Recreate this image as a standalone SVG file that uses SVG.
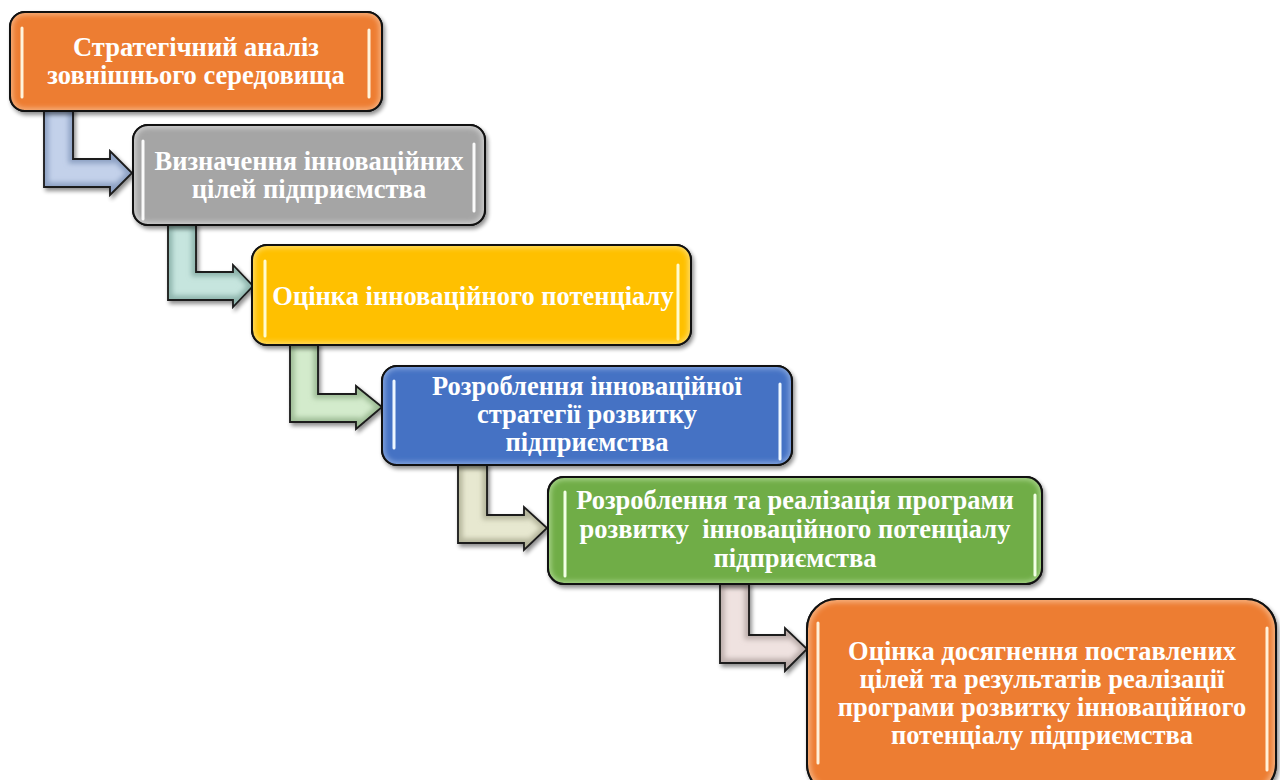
<svg xmlns="http://www.w3.org/2000/svg" width="1280" height="780" viewBox="0 0 1280 780">
  <defs>
    <style>
      .box { stroke: #111; stroke-width: 2; }
      .lbl { font-family: "Liberation Serif", "Times New Roman", serif; font-weight: bold; font-size: 26.5px; fill: #fff; text-anchor: middle; }
      .arr-edge { fill: none; stroke: #1a1a1a; stroke-width: 1.8; stroke-linejoin: miter; }
      .hl { stroke-width: 3; stroke-linecap: round; fill: none; }
      .glow { stroke-width: 7; stroke-linecap: round; fill: none; opacity: 0.55; }
    </style>
    <filter id="shadow" x="-10%" y="-10%" width="125%" height="130%">
      <feGaussianBlur in="SourceAlpha" stdDeviation="2.2"/>
      <feOffset dx="1.5" dy="2.5" result="b"/>
      <feComponentTransfer><feFuncA type="linear" slope="0.45"/></feComponentTransfer>
      <feMerge><feMergeNode/><feMergeNode in="SourceGraphic"/></feMerge>
    </filter>
    <filter id="soft" x="-20%" y="-20%" width="140%" height="140%">
      <feGaussianBlur stdDeviation="2.5"/>
    </filter>
    <filter id="glowblur" x="-200%" y="-20%" width="500%" height="140%">
      <feGaussianBlur stdDeviation="2"/>
    </filter>

    <!-- connector outlines -->
    <path id="a1" d="M44,108 H73 V159 H110 V151 L132,173 L110,195 V187 H44 Z"/>
    <path id="a2" d="M168,224 H196 V272 H233 V265 L253,286 L233,307 V300 H168 Z"/>
    <path id="a3" d="M290,343 H318 V394 H356 V386 L382,407 L356,429 V422 H290 Z"/>
    <path id="a4" d="M458,464 H487 V515 H524 V507 L547,528 L524,550 V543 H458 Z"/>
    <path id="a5" d="M720,583 H749 V635 H785 V628 L807,649 L785,671 V663 H720 Z"/>
    <clipPath id="c1"><use href="#a1"/></clipPath>
    <clipPath id="c2"><use href="#a2"/></clipPath>
    <clipPath id="c3"><use href="#a3"/></clipPath>
    <clipPath id="c4"><use href="#a4"/></clipPath>
    <clipPath id="c5"><use href="#a5"/></clipPath>

    <!-- box outlines -->
    <rect id="r1" x="10" y="12" width="372" height="99" rx="15"/>
    <rect id="r2" x="133" y="125" width="352" height="100" rx="15"/>
    <rect id="r3" x="252" y="245" width="439" height="100" rx="15"/>
    <rect id="r4" x="382" y="366" width="410" height="99" rx="15"/>
    <rect id="r5" x="548" y="477" width="494" height="107" rx="16"/>
    <rect id="r6" x="807" y="599" width="469" height="195" rx="30"/>
    <clipPath id="k1"><use href="#r1"/></clipPath>
    <clipPath id="k2"><use href="#r2"/></clipPath>
    <clipPath id="k3"><use href="#r3"/></clipPath>
    <clipPath id="k4"><use href="#r4"/></clipPath>
    <clipPath id="k5"><use href="#r5"/></clipPath>
    <clipPath id="k6"><use href="#r6"/></clipPath>
  </defs>

  <rect width="1280" height="780" fill="#fff"/>

  <!-- bent arrows between steps -->
  <g id="connectors">
    <g filter="url(#shadow)">
      <use href="#a1" fill="#c3d1ea"/>
      <g clip-path="url(#c1)"><use href="#a1" fill="none" stroke="#8ea2c4" stroke-width="9" filter="url(#soft)"/></g>
      <use href="#a1" class="arr-edge"/>
    </g>
    <g filter="url(#shadow)">
      <use href="#a2" fill="#c6e5de"/>
      <g clip-path="url(#c2)"><use href="#a2" fill="none" stroke="#8fb5ad" stroke-width="9" filter="url(#soft)"/></g>
      <use href="#a2" class="arr-edge"/>
    </g>
    <g filter="url(#shadow)">
      <use href="#a3" fill="#d3ebcc"/>
      <g clip-path="url(#c3)"><use href="#a3" fill="none" stroke="#9fbd96" stroke-width="9" filter="url(#soft)"/></g>
      <use href="#a3" class="arr-edge"/>
    </g>
    <g filter="url(#shadow)">
      <use href="#a4" fill="#e7e8d0"/>
      <g clip-path="url(#c4)"><use href="#a4" fill="none" stroke="#b5b69c" stroke-width="9" filter="url(#soft)"/></g>
      <use href="#a4" class="arr-edge"/>
    </g>
    <g filter="url(#shadow)">
      <use href="#a5" fill="#efe2e0"/>
      <g clip-path="url(#c5)"><use href="#a5" fill="none" stroke="#bcaeab" stroke-width="9" filter="url(#soft)"/></g>
      <use href="#a5" class="arr-edge"/>
    </g>
  </g>

  <!-- step 1 -->
  <g id="step1">
    <use href="#r1" fill="#ed7d31" class="box" filter="url(#shadow)"/>
    <g clip-path="url(#k1)"><use href="#r1" fill="none" stroke="#f6b07e" stroke-width="6" filter="url(#soft)"/></g>
    <use href="#r1" fill="none" class="box"/>
    <line x1="22" y1="28" x2="22" y2="97" class="glow" stroke="#ffd9a0" filter="url(#glowblur)"/>
    <line x1="22" y1="28" x2="22" y2="97" class="hl" stroke="#fff4dc"/>
    <line x1="369" y1="30" x2="369" y2="97" class="glow" stroke="#ffd9a0" filter="url(#glowblur)"/>
    <line x1="369" y1="30" x2="369" y2="97" class="hl" stroke="#fff4dc"/>
    <text class="lbl" x="196" y="56">Стратегічний аналіз</text>
    <text class="lbl" x="196" y="84">зовнішнього середовища</text>
  </g>

  <!-- step 2 -->
  <g id="step2">
    <use href="#r2" fill="#a5a5a5" class="box" filter="url(#shadow)"/>
    <g clip-path="url(#k2)"><use href="#r2" fill="none" stroke="#d0d0d0" stroke-width="6" filter="url(#soft)"/></g>
    <use href="#r2" fill="none" class="box"/>
    <line x1="143" y1="141" x2="143" y2="219" class="glow" stroke="#ffffff" filter="url(#glowblur)"/>
    <line x1="143" y1="141" x2="143" y2="219" class="hl" stroke="#fafafa"/>
    <line x1="474" y1="144" x2="474" y2="211" class="glow" stroke="#ffffff" filter="url(#glowblur)"/>
    <line x1="474" y1="144" x2="474" y2="211" class="hl" stroke="#fafafa"/>
    <text class="lbl" x="309" y="170">Визначення інноваційних</text>
    <text class="lbl" x="309" y="198">цілей підприємства</text>
  </g>

  <!-- step 3 -->
  <g id="step3">
    <use href="#r3" fill="#ffc000" class="box" filter="url(#shadow)"/>
    <g clip-path="url(#k3)"><use href="#r3" fill="none" stroke="#ffdc66" stroke-width="6" filter="url(#soft)"/></g>
    <use href="#r3" fill="none" class="box"/>
    <line x1="265" y1="261" x2="265" y2="336" class="glow" stroke="#ffff60" filter="url(#glowblur)"/>
    <line x1="265" y1="261" x2="265" y2="336" class="hl" stroke="#fffbd0"/>
    <line x1="678" y1="265" x2="678" y2="339" class="glow" stroke="#ffff60" filter="url(#glowblur)"/>
    <line x1="678" y1="265" x2="678" y2="339" class="hl" stroke="#fffbd0"/>
    <text class="lbl" x="473" y="305">Оцінка інноваційного потенціалу</text>
  </g>

  <!-- step 4 -->
  <g id="step4">
    <use href="#r4" fill="#4472c4" class="box" filter="url(#shadow)"/>
    <g clip-path="url(#k4)"><use href="#r4" fill="none" stroke="#86a6dd" stroke-width="6" filter="url(#soft)"/></g>
    <use href="#r4" fill="none" class="box"/>
    <line x1="394" y1="381" x2="394" y2="448" class="glow" stroke="#bfe0ff" filter="url(#glowblur)"/>
    <line x1="394" y1="381" x2="394" y2="448" class="hl" stroke="#eef7ff"/>
    <line x1="780" y1="384" x2="780" y2="459" class="glow" stroke="#bfe0ff" filter="url(#glowblur)"/>
    <line x1="780" y1="384" x2="780" y2="459" class="hl" stroke="#eef7ff"/>
    <text class="lbl" x="587" y="395">Розроблення інноваційної</text>
    <text class="lbl" x="587" y="423">стратегії розвитку</text>
    <text class="lbl" x="587" y="451">підприємства</text>
  </g>

  <!-- step 5 -->
  <g id="step5">
    <use href="#r5" fill="#70ad47" class="box" filter="url(#shadow)"/>
    <g clip-path="url(#k5)"><use href="#r5" fill="none" stroke="#a8d48a" stroke-width="6" filter="url(#soft)"/></g>
    <use href="#r5" fill="none" class="box"/>
    <line x1="565" y1="492" x2="565" y2="576" class="glow" stroke="#d8ffb8" filter="url(#glowblur)"/>
    <line x1="565" y1="492" x2="565" y2="576" class="hl" stroke="#f2ffe6"/>
    <line x1="1035" y1="495" x2="1035" y2="575" class="glow" stroke="#d8ffb8" filter="url(#glowblur)"/>
    <line x1="1035" y1="495" x2="1035" y2="575" class="hl" stroke="#f2ffe6"/>
    <text class="lbl" x="795" y="509">Розроблення та реалізація програми</text>
    <text class="lbl" x="795" y="538" xml:space="preserve">розвитку  інноваційного потенціалу</text>
    <text class="lbl" x="795" y="567">підприємства</text>
  </g>

  <!-- step 6 -->
  <g id="step6">
    <use href="#r6" fill="#ed7d31" class="box" filter="url(#shadow)"/>
    <g clip-path="url(#k6)"><use href="#r6" fill="none" stroke="#f6b07e" stroke-width="7" filter="url(#soft)"/></g>
    <use href="#r6" fill="none" class="box"/>
    <line x1="818" y1="623" x2="818" y2="763" class="glow" stroke="#ffd9a0" filter="url(#glowblur)"/>
    <line x1="818" y1="623" x2="818" y2="763" class="hl" stroke="#fff0d8"/>
    <line x1="1267" y1="628" x2="1267" y2="770" class="glow" stroke="#ffd9a0" filter="url(#glowblur)"/>
    <line x1="1267" y1="628" x2="1267" y2="770" class="hl" stroke="#fff0d8"/>
    <text class="lbl" x="1042" y="660">Оцінка досягнення поставлених</text>
    <text class="lbl" x="1042" y="688">цілей та результатів реалізації</text>
    <text class="lbl" x="1042" y="716">програми розвитку інноваційного</text>
    <text class="lbl" x="1042" y="744">потенціалу підприємства</text>
  </g>
</svg>
